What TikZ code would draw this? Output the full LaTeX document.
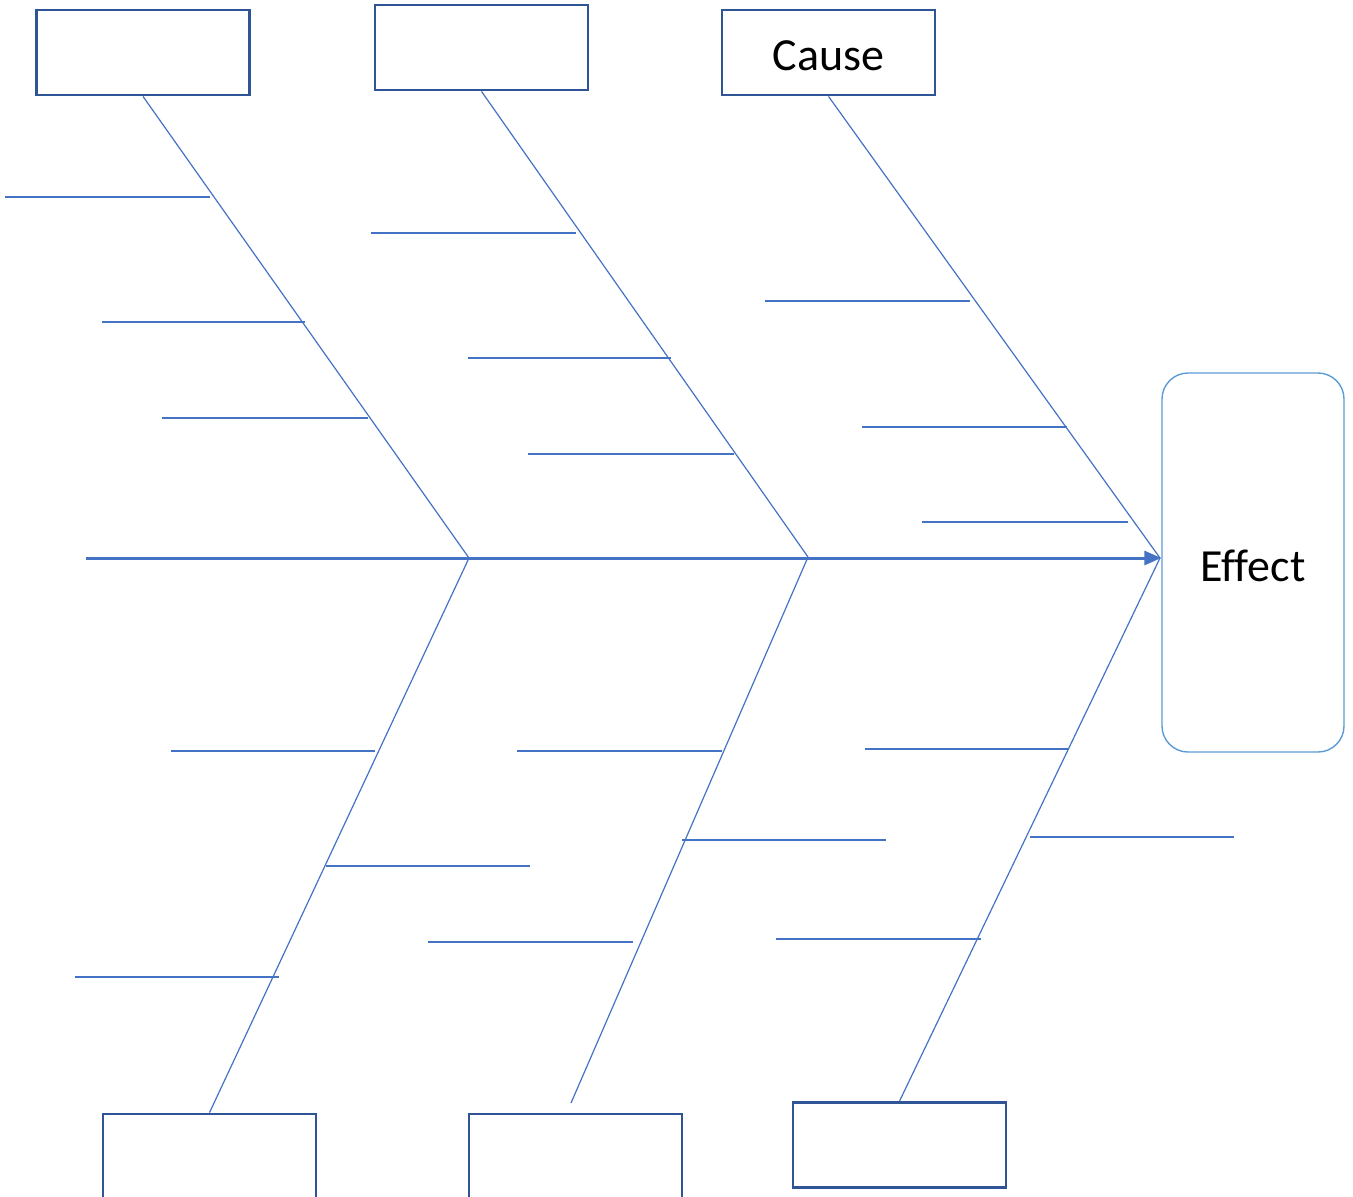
\documentclass[tikz,border=0pt]{standalone}
\usepackage{fontspec}
\setmainfont{Carlito}[Ligatures=NoCommon]
\usetikzlibrary{arrows.meta}
\definecolor{boneblue}{HTML}{4472C4}
\definecolor{boxblue}{HTML}{2F5597}
\definecolor{effectblue}{HTML}{5B9BD5}
\begin{document}
\begin{tikzpicture}[x=0.5pt,y=-0.5pt,
  bigtext/.style={font=\fontsize{23}{27}\selectfont},
  causebox/.style={draw=boxblue,line width=1.4pt,fill=white,minimum width=106.5pt,minimum height=42.5pt,inner sep=0pt},
  bone/.style={draw=boneblue,line width=0.6pt},
  rib/.style={draw=boneblue,line width=0.6pt},
  spine/.style={draw=boneblue,line width=1.5pt,-{Triangle[length=8.5pt,width=7pt]}}]
\useasboundingbox (0,0) rectangle (1353,1196);
\begin{scope}
\clip (0,0) rectangle (1353,1196);

% effect box
\node[draw=effectblue,line width=0.7pt,rounded corners=13pt,minimum width=91pt,minimum height=189.5pt,inner sep=0pt,
  label={[bigtext,yshift=-1.5pt]center:Effect}] (effect) at (1253,562.5) {};

% cause boxes
\node[causebox] (c1) at (143,52.5) {};
\node[causebox] (c2) at (481.5,47.5) {};
\node[causebox,label={[bigtext,yshift=-1.5pt]center:Cause}] (c3) at (828.5,52.5) {};
\node[causebox] (c4) at (209.5,1156.5) {};
\node[causebox] (c5) at (575.5,1156.5) {};
\node[causebox] (c6) at (899.5,1145) {};

% joints on the spine
\coordinate (s0) at (86,558);
\coordinate (j1) at (469,558);
\coordinate (j2) at (808,557);
\coordinate (j3) at (1160,558);
\coordinate (b5) at (571,1103);

% spine
\draw[spine] (s0) -- (s0 -| effect.west);

% main bones
\draw[bone] (c1.south) -- (j1);
\draw[bone] (c2.south) -- (j2);
\draw[bone] (c3.south) -- (j3);
\draw[bone] (j1) -- (c4.north);
\draw[bone] (j2) -- (b5);
\draw[bone] (j3) -- (c6.north);

% ribs
\foreach \y/\xa/\xb [count=\i] in {
  197/5/210, 322/102/305, 418/162/368,
  233/371/576, 358/468/671, 454/528/734,
  301/765/970, 427/862/1067, 522/922/1128,
  751/171/375, 866/326/530, 977/75/279,
  751/517/722, 840/682/886, 942/428/633,
  749/865/1069, 837/1030/1234, 939/776/981}{
  \coordinate (r\i a) at (\xa,\y);
  \coordinate (r\i b) at (\xb,\y);
  \draw[rib] (r\i a) -- (r\i b);
}
\end{scope}
\end{tikzpicture}
\end{document}
